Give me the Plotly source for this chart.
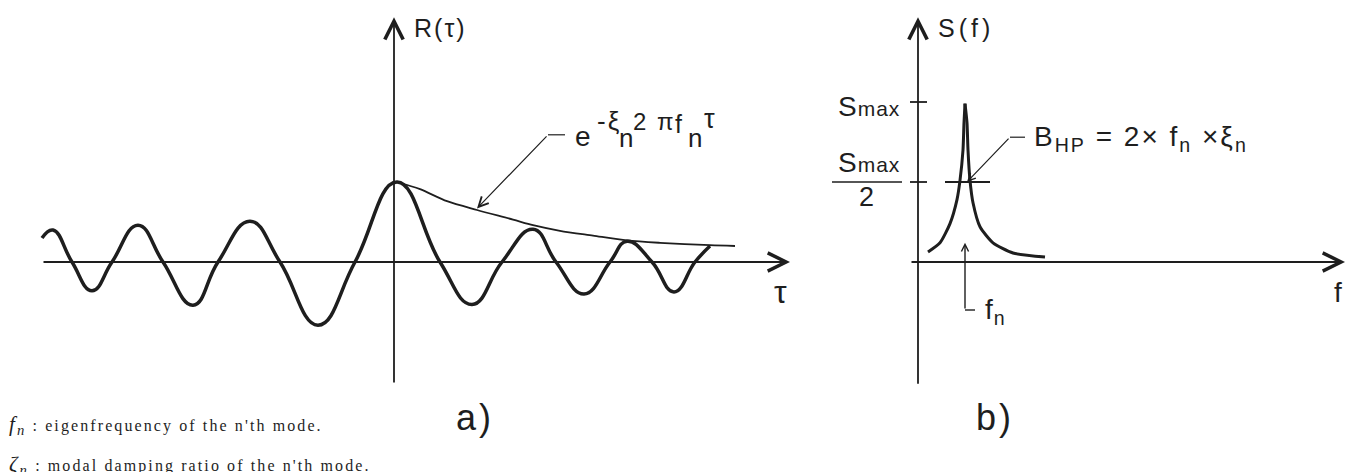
import plotly.graph_objects as go

INK = "#1e1e1e"
PLOT_FONT = "Liberation Sans"
NOTE_FONT = "Liberation Serif"

# panel a) autocorrelation R(tau)
tau = [-3.52, -3.41, -3.22, -3.02, -2.82, -2.56, -2.31, -2.01, -1.76, -1.44, -1.14,
       -0.76, -0.39, 0.03, 0.46, 0.78, 1.08, 1.39, 1.62, 1.90, 2.16, 2.33, 2.58,
       2.80, 3.01, 3.16]
r_tau = [0.30, 0.40, 0.0, -0.36, 0.0, 0.46, 0.0, -0.54, 0.0, 0.51, 0.0,
         -0.79, 0.0, 1.0, 0.0, -0.53, 0.0, 0.41, 0.0, -0.40, 0.0, 0.26, 0.0,
         -0.375, 0.0, 0.20]
env_tau = [0.03, 0.26, 0.53, 0.83, 1.19, 1.39, 1.66, 1.99, 2.33, 2.66, 3.16, 3.41]
env_r = [1.0, 0.91, 0.76, 0.65, 0.53, 0.46, 0.39, 0.33, 0.27, 0.24, 0.21, 0.20]

# panel b) spectrum S(f), left and right flank of the resonance peak
f_left = [0.10, 0.22, 0.32, 0.39, 0.42, 0.45, 0.46, 0.47]
s_left = [0.0625, 0.12, 0.24, 0.39, 0.51, 0.70, 0.87, 0.99]
f_right = [0.47, 0.49, 0.50, 0.52, 0.55, 0.62, 0.75, 0.95, 1.27]
s_right = [0.99, 0.87, 0.70, 0.51, 0.37, 0.22, 0.12, 0.056, 0.031]

S_MAX = 1.0
F_N = 0.47
HALF_BAND = [0.27, 0.72]

# pieces of the envelope formula e^(-xi_n 2 pi f_n tau): (text, tau, R, size)
ENVELOPE_PARTS = [
    ("e", 1.79, 1.575, 28),
    ("-ξ", 2.01, 1.76, 26),
    ("n", 2.23, 1.545, 26),
    ("2 π", 2.37, 1.76, 24),
    ("f", 2.79, 1.73, 25),
    ("n", 2.92, 1.545, 26),
    ("τ", 3.08, 1.79, 27),
]


def arrow(x, y, ax, ay, xref, yref, width=1.8, size=2.0, head=5):
    return dict(
        x=x, y=y, ax=ax, ay=ay, xref=xref, yref=yref, axref=xref, ayref=yref,
        text="", showarrow=True, arrowhead=head, arrowsize=size,
        arrowwidth=width, arrowcolor=INK,
    )


def label(text, x, y, xref, yref, size=24, xanchor="left", yanchor="middle",
          family=PLOT_FONT, spacing=2):
    if spacing:
        text = f"<span style='letter-spacing:{spacing}px'>{text}</span>"
    return dict(
        text=text, x=x, y=y, xref=xref, yref=yref, showarrow=False,
        xanchor=xanchor, yanchor=yanchor, font={"family": family, "size": size, "color": INK},
    )


def seg(x0, y0, x1, y1, xref, yref, width=1.8):
    return dict(type="line", x0=x0, y0=y0, x1=x1, y1=y1, xref=xref, yref=yref,
                line={"color": INK, "width": width})


fig = go.Figure()

fig.add_trace(go.Scatter(
    x=tau, y=r_tau, mode="lines", line={"color": INK, "width": 3.5, "shape": "spline", "smoothing": 1.3},
    xaxis="x", yaxis="y", hoverinfo="skip",
))
fig.add_trace(go.Scatter(
    x=env_tau, y=env_r, mode="lines", line={"color": INK, "width": 1.8, "shape": "spline", "smoothing": 0.8},
    xaxis="x", yaxis="y", hoverinfo="skip",
))
for fx, sy in [(f_left, s_left), (f_right, s_right)]:
    fig.add_trace(go.Scatter(
        x=fx, y=sy, mode="lines", line={"color": INK, "width": 3.0, "shape": "spline", "smoothing": 0.6},
        xaxis="x2", yaxis="y2", hoverinfo="skip",
    ))

smax = "S<span style='font-size:21px'>max</span>"
annotations = [
    # panel a axes
    arrow(3.96, 0, -3.52, 0, "x", "y"),
    arrow(0, 3.06, 0, -1.525, "x", "y"),
    # envelope leader
    arrow(0.83, 0.67, 1.54, 1.59, "x", "y", width=1.2, size=1.6),
    label("R(τ)", 0.18, 2.93, "x", "y", size=25, spacing=2),
    label("τ", 3.86, -0.38, "x", "y", size=32, xanchor="center", spacing=0),
    label("a)", 0.81, -1.94, "x", "y", size=36, xanchor="center", spacing=3),
    # panel b axes
    arrow(4.27, 0, -0.08, 0, "x2", "y2"),
    arrow(0, 1.53, 0, -0.77, "x2", "y2"),
    # half-power leader and f_n marker
    arrow(0.49, 0.5, 0.92, 0.78, "x2", "y2", width=1.2, size=1.2),
    arrow(F_N, 0.12, F_N, -0.30, "x2", "y2", width=1.4, size=1.0),
    label("S(f)", 0.18, 1.4625, "x2", "y2", size=25, spacing=4),
    label(smax, -0.16, 0.97, "x2", "y2", size=28, xanchor="right", spacing=1),
    label(smax, -0.16, 0.62, "x2", "y2", size=28, xanchor="right", spacing=1),
    label("2", -0.515, 0.405, "x2", "y2", size=27, xanchor="center", spacing=0),
    label("B<sub>HP</sub> = 2× f<sub>n</sub> ×ξ<sub>n</sub>", 1.14, 0.775, "x2", "y2", size=28, spacing=2),
    label("f<sub>n</sub>", 0.65, -0.31, "x2", "y2", size=28, spacing=1),
    label("f", 4.20, -0.19, "x2", "y2", size=28, xanchor="center", spacing=0),
    label("b)", 0.77, -0.97, "x2", "y2", size=36, xanchor="center", spacing=3),
    # footnotes (the second one runs off the bottom edge, as in the source)
    label("<i style='font-size:21px'>f<sub>n</sub></i> : eigenfrequency of the n'th mode.",
          0.005, 0.1, "paper", "paper", size=16, family=NOTE_FONT, spacing=2.1),
    label("<i style='font-size:21px'>ζ<sub>n</sub></i> : modal damping ratio of the n'th mode.",
          0.005, 0.014, "paper", "paper", size=16, family=NOTE_FONT, spacing=2.1),
]
for text, x, y, size in ENVELOPE_PARTS:
    annotations.append(label(text, x, y, "x", "y", size=size, spacing=2))

shapes = [
    seg(1.54, 1.59, 1.71, 1.59, "x", "y", width=1.2),
    # S_max ticks and half-power line
    seg(-0.08, S_MAX, 0.09, S_MAX, "x2", "y2"),
    seg(-0.08, S_MAX / 2, 0.09, S_MAX / 2, "x2", "y2"),
    seg(HALF_BAND[0], S_MAX / 2, HALF_BAND[1], S_MAX / 2, "x2", "y2"),
    seg(-0.86, S_MAX / 2, -0.16, S_MAX / 2, "x2", "y2", width=1.6),
    seg(0.92, 0.78, 1.07, 0.78, "x2", "y2", width=1.2),
    seg(F_N, -0.30, F_N + 0.10, -0.30, "x2", "y2", width=1.4),
]

hidden = {"visible": False, "fixedrange": True, "domain": [0, 1]}
fig.update_layout(
    width=1354,
    height=472,
    margin={"l": 0, "r": 0, "t": 0, "b": 0},
    paper_bgcolor="#ffffff",
    plot_bgcolor="#ffffff",
    showlegend=False,
    xaxis={**hidden, "range": [-3.94, 9.60]},
    yaxis={**hidden, "range": [-2.625, 3.275]},
    xaxis2={**hidden, "range": [-9.18, 4.36], "overlaying": "x", "anchor": "y2"},
    yaxis2={**hidden, "range": [-1.3125, 1.6375], "overlaying": "y", "anchor": "x2"},
    annotations=annotations,
    shapes=shapes,
)

# the page's default body margin would shift the drawing by 8px
fig.write_html(
    "out.html",
    config={"displayModeBar": False},
    post_script="document.body.style.margin='0';document.body.style.overflow='hidden';",
)
